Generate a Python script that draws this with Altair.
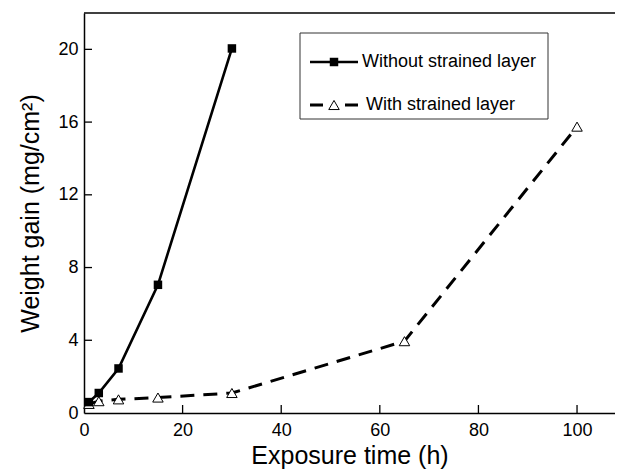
import altair as alt
import pandas as pd

# ---- data ----
series_names = ["Without strained layer", "With strained layer"]
t_without = [1, 3, 7, 15, 30]
w_without = [0.6, 1.1, 2.45, 7.05, 20.05]
t_with = [1, 3, 7, 15, 30, 65, 100]
w_with = [0.5, 0.65, 0.75, 0.85, 1.1, 3.95, 15.75]
x_ticks = [0, 20, 40, 60, 80, 100]
y_ticks = [0, 4, 8, 12, 16, 20]

W, H = 531, 400
FONT = "Liberation Sans"

df1 = pd.DataFrame({"t": t_without, "w": w_without})
df2 = pd.DataFrame({"t": t_with, "w": w_with})

xs = alt.Scale(domain=[0, 107.7], nice=False, zero=False)
ys = alt.Scale(domain=[0, 22], nice=False, zero=False)

X_ax = alt.X("t:Q", scale=xs, axis=alt.Axis(values=x_ticks, title="Exposure time (h)",
                                            labelPadding=8, titlePadding=4))
Y_ax = alt.Y("w:Q", scale=ys, axis=alt.Axis(values=y_ticks, title="Weight gain (mg/cm²)",
                                            labelPadding=6, titlePadding=14))
Xn = alt.X("t:Q", scale=xs)
Yn = alt.Y("w:Q", scale=ys)

line1 = alt.Chart(df1).mark_line(color="black", strokeWidth=2.6).encode(x=X_ax, y=Y_ax)
pts1 = alt.Chart(df1).mark_square(color="black", size=72, opacity=1).encode(x=Xn, y=Yn)
line2 = alt.Chart(df2).mark_line(color="black", strokeWidth=3, strokeDash=[14, 9]).encode(x=Xn, y=Yn)
pts2 = alt.Chart(df2).mark_point(shape="triangle-up", filled=True, fill="white", stroke="black",
                                 strokeWidth=1, size=110, opacity=1).encode(x=Xn, y=Yn)

# inward tick marks
xt = pd.DataFrame({"t": [v for v in x_ticks if v > 0]})
yt = pd.DataFrame({"w": [v for v in y_ticks if v > 0]})
xtick = alt.Chart(xt).mark_rule(color="black", strokeWidth=1.3).encode(
    x=Xn, y=alt.value(H), y2=alt.value(H - 8))
ytick = alt.Chart(yt).mark_rule(color="black", strokeWidth=1.3).encode(
    y=Yn, x=alt.value(0), x2=alt.value(8))

# top frame line
one = pd.DataFrame({"a": [0]})
top = alt.Chart(one).mark_rule(color="black", strokeWidth=1.5).encode(
    x=alt.value(0), x2=alt.value(W), y=alt.value(0))

# legend box
lbox = alt.Chart(one).mark_rect(fill="white", stroke="#333333", strokeWidth=1).encode(
    x=alt.value(216), x2=alt.value(464), y=alt.value(20), y2=alt.value(106))
l1 = alt.Chart(one).mark_rule(color="black", strokeWidth=2.6).encode(
    x=alt.value(226), x2=alt.value(274), y=alt.value(49))
s1 = alt.Chart(one).mark_square(color="black", size=72, opacity=1).encode(
    x=alt.value(250), y=alt.value(49))
t1 = alt.Chart(one).mark_text(align="left", baseline="middle", font=FONT, fontSize=18, color="black").encode(
    x=alt.value(278), y=alt.value(49), text=alt.value(series_names[0]))
l2 = alt.Chart(one).mark_rule(color="black", strokeWidth=3, strokeDash=[13, 22]).encode(
    x=alt.value(226), x2=alt.value(274), y=alt.value(92))
s2 = alt.Chart(one).mark_point(shape="triangle-up", filled=True, fill="white", stroke="black",
                               strokeWidth=1, size=110, opacity=1).encode(x=alt.value(250), y=alt.value(92))
t2 = alt.Chart(one).mark_text(align="left", baseline="middle", font=FONT, fontSize=18, color="black").encode(
    x=alt.value(282), y=alt.value(92), text=alt.value(series_names[1]))

chart = alt.layer(
    line1, line2, pts2, pts1, xtick, ytick, top, lbox, l1, s1, t1, l2, s2, t2
).properties(
    width=W, height=H,
    autosize=alt.AutoSizeParams(type="none"),
    padding={"left": 76, "top": 5, "right": 0, "bottom": 59},
).configure_view(stroke=None).configure_axis(
    domainColor="black", domainWidth=1.5, ticks=False, grid=False,
    labelFont=FONT, labelFontSize=18, labelColor="black",
    labelFlush=False, labelOverlap=False,
    titleFont=FONT, titleFontSize=25, titleFontWeight="normal", titleColor="black",
)

chart.save("out.html", embed_options={"renderer": "svg", "actions": False})
